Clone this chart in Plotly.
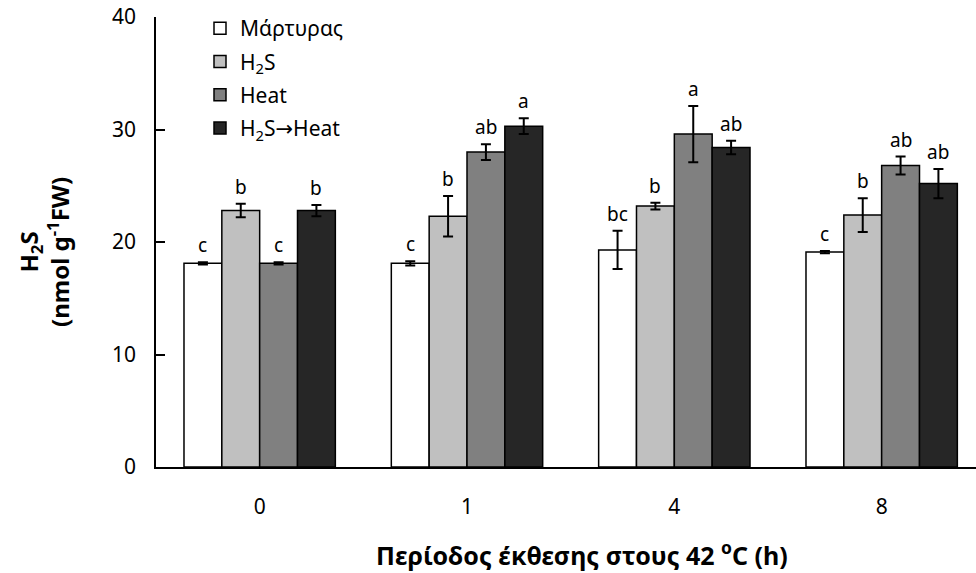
import plotly.graph_objects as go

# Exposure periods (h) and treatment series
periods = ["0", "1", "4", "8"]
series_names = [
    "Μάρτυρας",
    "H<sub>2</sub>S",
    "Heat",
    "H<sub>2</sub>S<span style=\"font-family:'DejaVu Sans'\">→</span>Heat",
]

control = [18.1, 18.1, 19.3, 19.1]
h2s = [22.8, 22.3, 23.2, 22.4]
heat = [18.1, 28.0, 29.6, 26.8]
h2s_heat = [22.8, 30.3, 28.4, 25.2]

control_err = [0.1, 0.2, 1.7, 0.1]
h2s_err = [0.6, 1.8, 0.3, 1.5]
heat_err = [0.1, 0.7, 2.5, 0.8]
h2s_heat_err = [0.5, 0.7, 0.6, 1.3]

control_lbl = ["c", "c", "bc", "c"]
h2s_lbl = ["b", "b", "b", "b"]
heat_lbl = ["c", "ab", "a", "ab"]
h2s_heat_lbl = ["b", "a", "ab", "ab"]

values = [control, h2s, heat, h2s_heat]
errors = [control_err, h2s_err, heat_err, h2s_heat_err]
letters = [control_lbl, h2s_lbl, heat_lbl, h2s_heat_lbl]
colors = ["#ffffff", "#c0c0c0", "#808080", "#262626"]

FONT = "Noto Sans"
INK = "#000000"
x_pos = list(range(len(periods)))
bargap = 0.27
bar_w = (1 - bargap) / len(values)

fig = go.Figure()
for i, (name, vals, errs, col) in enumerate(zip(series_names, values, errors, colors)):
    fig.add_trace(go.Bar(
        x=x_pos, y=vals, name=name, legendgroup=str(i),
        marker=dict(color=col, line=dict(color=INK, width=1.5)),
        error_y=dict(type="data", array=errs, visible=True,
                     color=INK, thickness=2, width=5),
    ))

# significance letters above each error bar
annotations = []
for i, (vals, errs, lbls) in enumerate(zip(values, errors, letters)):
    for j in range(len(periods)):
        annotations.append(dict(
            x=x_pos[j] + (i - 1.5) * bar_w, y=vals[j] + errs[j],
            xref="x", yref="y", text=lbls[j], showarrow=False,
            yanchor="bottom", yshift=2,
            font=dict(family=FONT, size=19, color=INK),
        ))

# axis titles
annotations.append(dict(
    x=(582 - 156) / 820, y=-(553 - 467) / 450, xref="paper", yref="paper",
    text="<b>Περίοδος έκθεσης στους 42 <sup>o</sup>C (h)</b>",
    showarrow=False, xanchor="center", yanchor="middle",
    font=dict(family=FONT, size=25, color=INK),
))
annotations.append(dict(
    x=-(156 - 44) / 820, y=(467 - 252) / 450, xref="paper", yref="paper",
    text="<b>H<sub>2</sub>S<br>(nmol g<sup>-1</sup>FW)</b>",
    showarrow=False, textangle=-90, xanchor="center", yanchor="middle",
    font=dict(family=FONT, size=24, color=INK),
))

fig.update_layout(
    width=976, height=573,
    margin=dict(l=156, r=0, t=17, b=106),
    paper_bgcolor="white", plot_bgcolor="white",
    barmode="group", bargap=bargap, bargroupgap=0,
    font=dict(family=FONT, size=20, color=INK),
    showlegend=True,
    legend=dict(
        x=(200 - 156) / 820, y=1.02, xanchor="left", yanchor="top",
        bgcolor="rgba(0,0,0,0)", font=dict(family=FONT, size=21, color=INK),
        tracegroupgap=3, itemwidth=30,
    ),
    annotations=annotations,
)
fig.update_xaxes(
    tickmode="array", tickvals=x_pos, ticktext=periods,
    range=[-0.5, 3.455], showline=True, linecolor=INK, linewidth=1.5,
    ticks="", showgrid=False, zeroline=False,
    tickfont=dict(family=FONT, size=21, color=INK), ticklabelstandoff=20,
)
fig.update_yaxes(
    range=[0, 40], dtick=10, showline=True, linecolor=INK, linewidth=1.5,
    ticks="inside", ticklen=9, tickcolor=INK, tickwidth=1.5,
    showgrid=False, zeroline=False,
    tickfont=dict(family=FONT, size=21, color=INK), ticklabelstandoff=14,
)

fig.write_html("out.html")
